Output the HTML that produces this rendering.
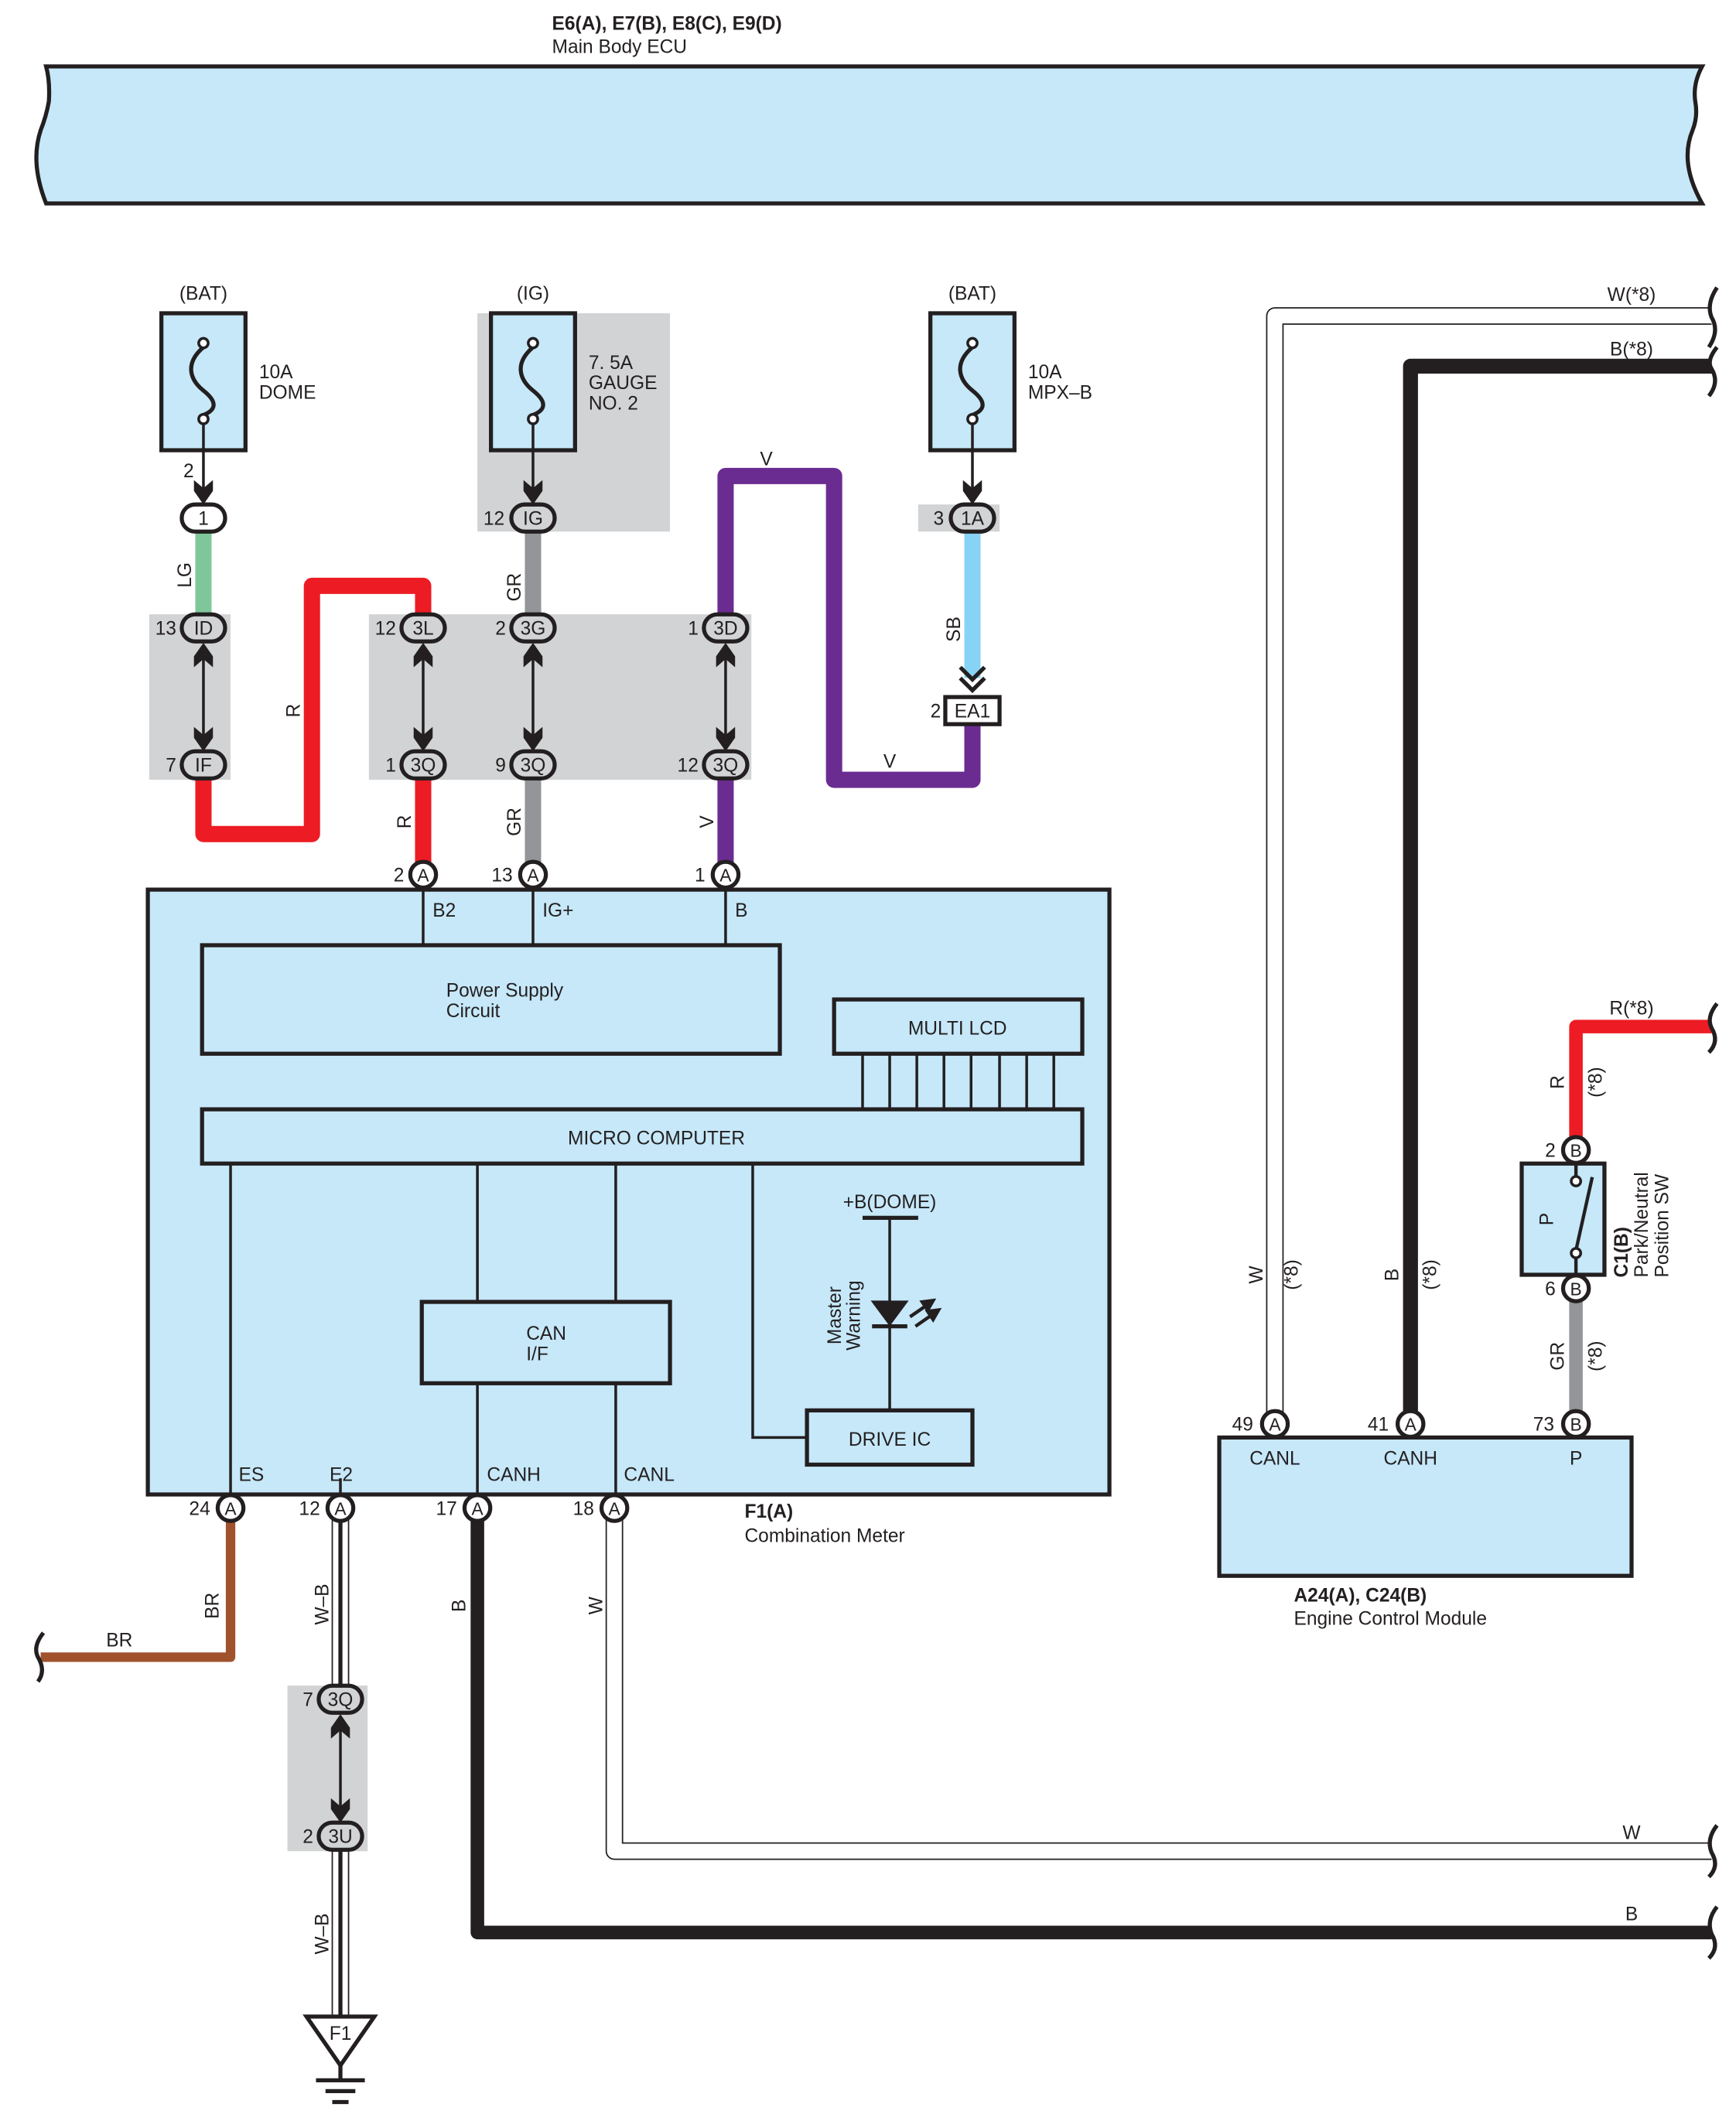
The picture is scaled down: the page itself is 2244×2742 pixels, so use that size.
<!DOCTYPE html>
<html><head><meta charset="utf-8"><style>
html,body{margin:0;padding:0;background:#fff;}
svg{display:block;}
text{font-family:"Liberation Sans",sans-serif;fill:#231f20;}
</style></head><body>
<svg width="2244" height="2742" viewBox="0 0 1280 1564" preserveAspectRatio="none" xmlns="http://www.w3.org/2000/svg">
<g font-size="14">
<!-- Main Body ECU -->
<text x="407" y="22" font-weight="bold">E6(A), E7(B), E8(C), E9(D)</text>
<text x="407" y="39">Main Body ECU</text>
<path d="M34,49 L1255,49 Q1248,62 1250,75 Q1252,86 1248,96 Q1238,120 1255,150 L34,150 Q22,120 30,96 Q34,86 36,75 Q37,60 34,49 Z" fill="#c6e8f9" stroke="#231f20" stroke-width="3"/>

<!-- gray backgrounds -->
<rect x="352" y="231" width="142" height="161" fill="#d1d3d4"/>
<rect x="110" y="453" width="60" height="122" fill="#d1d3d4"/>
<rect x="272" y="453" width="282" height="122" fill="#d1d3d4"/>
<rect x="677" y="372" width="60" height="20" fill="#d1d3d4"/>
<rect x="212" y="1243" width="59" height="122" fill="#d1d3d4"/>

<!-- fuses -->
<g stroke="#231f20" stroke-width="3">
<rect x="119" y="231" width="62" height="101" fill="#c6e8f9"/>
<rect x="362" y="231" width="62" height="101" fill="#c6e8f9"/>
<rect x="686" y="231" width="62" height="101" fill="#c6e8f9"/>
</g>
<g fill="none" stroke="#231f20" stroke-width="3">
<path d="M150,256 C136,268 140,280 150,288 C160,296 160,302 150,306"/>
<path d="M393,256 C379,268 383,280 393,288 C403,296 403,302 393,306"/>
<path d="M717,256 C703,268 707,280 717,288 C727,296 727,302 717,306"/>
</g>
<g fill="#fff" stroke="#231f20" stroke-width="2">
<circle cx="150" cy="253" r="3.5"/><circle cx="150" cy="309" r="3.5"/>
<circle cx="393" cy="253" r="3.5"/><circle cx="393" cy="309" r="3.5"/>
<circle cx="717" cy="253" r="3.5"/><circle cx="717" cy="309" r="3.5"/>
</g>
<g stroke="#231f20" stroke-width="2">
<line x1="150" y1="312" x2="150" y2="370"/>
<line x1="393" y1="312" x2="393" y2="370"/>
<line x1="717" y1="312" x2="717" y2="370"/>
</g>
<text x="150" y="221" text-anchor="middle">(BAT)</text>
<text x="393" y="221" text-anchor="middle">(IG)</text>
<text x="717" y="221" text-anchor="middle">(BAT)</text>
<text x="191" y="279">10A</text><text x="191" y="294">DOME</text>
<text x="434" y="272">7. 5A</text><text x="434" y="287">GAUGE</text><text x="434" y="302">NO. 2</text>
<text x="758" y="279">10A</text><text x="758" y="294">MPX–B</text>

<!-- colored wires -->
<g fill="none" stroke-linejoin="round">
<line x1="150" y1="392" x2="150" y2="455" stroke="#7fc79a" stroke-width="12"/>
<path d="M150,574 L150,615 L230,615 L230,432 L312,432 L312,455" stroke="#ed1c24" stroke-width="12"/>
<line x1="312" y1="574" x2="312" y2="636" stroke="#ed1c24" stroke-width="12"/>
<line x1="393" y1="392" x2="393" y2="455" stroke="#939598" stroke-width="12"/>
<line x1="393" y1="574" x2="393" y2="636" stroke="#939598" stroke-width="12"/>
<path d="M535,455 L535,351 L615,351 L615,575 L717,575 L717,533" stroke="#6b2c91" stroke-width="12"/>
<line x1="535" y1="574" x2="535" y2="636" stroke="#6b2c91" stroke-width="12"/>
<line x1="717" y1="392" x2="717" y2="500" stroke="#87d3f5" stroke-width="12"/>
<path d="M170,1120 L170,1222 L30,1222" stroke="#a0522d" stroke-width="7"/>
<path d="M352,1120 L352,1425 L1262,1425" stroke="#231f20" stroke-width="10"/>
<path d="M453,1120 L453,1365 L1262,1365" stroke="#231f20" stroke-width="13"/>
<path d="M453,1120 L453,1365 L1262,1365" stroke="#fff" stroke-width="11"/>
<path d="M1262,233 L940,233 L940,1042" stroke="#231f20" stroke-width="13"/>
<path d="M1262,233 L940,233 L940,1042" stroke="#fff" stroke-width="11"/>
<path d="M1262,270 L1040,270 L1040,1042" stroke="#231f20" stroke-width="11"/>
<path d="M1262,757 L1162,757 L1162,840" stroke="#ed1c24" stroke-width="10"/>
<line x1="1162" y1="958" x2="1162" y2="1042" stroke="#939598" stroke-width="10"/>
<line x1="251" y1="1120" x2="251" y2="1487" stroke="#231f20" stroke-width="13"/>
<line x1="251" y1="1120" x2="251" y2="1487" stroke="#fff" stroke-width="11"/>
<line x1="251" y1="1120" x2="251" y2="1487" stroke="#231f20" stroke-width="3"/>
</g>
<rect x="212" y="1243" width="59" height="122" fill="#d1d3d4"/>

<!-- wire breaks on right -->
<g fill="none" stroke="#231f20" stroke-width="3">
<path d="M1266,212 Q1258,224 1262,234 Q1268,244 1260,256"/>
<path d="M1266,256 Q1258,266 1262,272 Q1268,282 1260,292"/>
<path d="M1266,740 Q1258,750 1262,758 Q1268,768 1260,776"/>
<path d="M1266,1346 Q1258,1356 1262,1366 Q1268,1376 1260,1384"/>
<path d="M1266,1406 Q1258,1416 1262,1426 Q1268,1436 1260,1444"/>
<path d="M32,1204 Q24,1214 28,1222 Q34,1232 28,1240"/>
</g>

<!-- double arrows -->
<g stroke="#231f20" stroke-width="2">
<line x1="150" y1="476" x2="150" y2="552"/>
<line x1="312" y1="476" x2="312" y2="552"/>
<line x1="393" y1="476" x2="393" y2="552"/>
<line x1="535" y1="476" x2="535" y2="552"/>
<line x1="251" y1="1266" x2="251" y2="1342"/>
</g>
<g fill="#231f20">
<path id="ua" d="M150,474 L157,484 L157,492 L150,486 L143,492 L143,484 Z"/>
<path d="M150,554 L157,544 L157,536 L150,542 L143,536 L143,544 Z"/>
<path d="M312,474 L319,484 L319,492 L312,486 L305,492 L305,484 Z"/>
<path d="M312,554 L319,544 L319,536 L312,542 L305,536 L305,544 Z"/>
<path d="M393,474 L400,484 L400,492 L393,486 L386,492 L386,484 Z"/>
<path d="M393,554 L400,544 L400,536 L393,542 L386,536 L386,544 Z"/>
<path d="M535,474 L542,484 L542,492 L535,486 L528,492 L528,484 Z"/>
<path d="M535,554 L542,544 L542,536 L535,542 L528,536 L528,544 Z"/>
<path d="M251,1264 L258,1274 L258,1282 L251,1276 L244,1282 L244,1274 Z"/>
<path d="M251,1344 L258,1334 L258,1326 L251,1332 L244,1326 L244,1334 Z"/>
<!-- single arrows to top pills -->
<path d="M150,372 L157,362 L157,354 L150,360 L143,354 L143,362 Z"/>
<path d="M393,372 L400,362 L400,354 L393,360 L386,354 L386,362 Z"/>
<path d="M717,372 L724,362 L724,354 L717,360 L710,354 L710,362 Z"/>
</g>
<g fill="none" stroke="#231f20" stroke-width="3">
<path d="M708,492 L717,501 L726,492"/>
<path d="M708,500 L717,509 L726,500"/>
</g>
<rect x="697" y="514" width="40" height="20" fill="#fff" stroke="#231f20" stroke-width="3"/>
<text x="717" y="529" text-anchor="middle">EA1</text><text x="686" y="529">2</text>

<!-- pill connectors -->
<g stroke="#231f20" stroke-width="3">
<rect x="134" y="372" width="32" height="20" rx="10" fill="#fff"/>
<rect x="377" y="372" width="32" height="20" rx="10" fill="#d1d3d4"/>
<rect x="701" y="372" width="32" height="20" rx="10" fill="#d1d3d4"/>
<rect x="134" y="453" width="32" height="20" rx="10" fill="#d1d3d4"/>
<rect x="134" y="554" width="32" height="20" rx="10" fill="#d1d3d4"/>
<rect x="296" y="453" width="32" height="20" rx="10" fill="#d1d3d4"/>
<rect x="296" y="554" width="32" height="20" rx="10" fill="#d1d3d4"/>
<rect x="377" y="453" width="32" height="20" rx="10" fill="#d1d3d4"/>
<rect x="377" y="554" width="32" height="20" rx="10" fill="#d1d3d4"/>
<rect x="519" y="453" width="32" height="20" rx="10" fill="#d1d3d4"/>
<rect x="519" y="554" width="32" height="20" rx="10" fill="#d1d3d4"/>
<rect x="235" y="1243" width="32" height="20" rx="10" fill="#d1d3d4"/>
<rect x="235" y="1344" width="32" height="20" rx="10" fill="#d1d3d4"/>
</g>
<g text-anchor="middle">
<text x="150" y="387">1</text><text x="393" y="387">IG</text><text x="717" y="387">1A</text>
<text x="150" y="468">ID</text><text x="150" y="569">IF</text>
<text x="312" y="468">3L</text><text x="312" y="569">3Q</text>
<text x="393" y="468">3G</text><text x="393" y="569">3Q</text>
<text x="535" y="468">3D</text><text x="535" y="569">3Q</text>
<text x="251" y="1258">3Q</text><text x="251" y="1359">3U</text>
</g>
<g text-anchor="end">
<text x="143" y="352">2</text><text x="372" y="387">12</text><text x="696" y="387">3</text>
<text x="130" y="468">13</text><text x="130" y="569">7</text>
<text x="292" y="468">12</text><text x="292" y="569">1</text>
<text x="373" y="468">2</text><text x="373" y="569">9</text>
<text x="515" y="468">1</text><text x="515" y="569">12</text>
<text x="231" y="1258">7</text><text x="231" y="1359">2</text>
</g>

<!-- wire labels -->
<g>
<text transform="translate(141,424) rotate(-90)" text-anchor="middle">LG</text>
<text transform="translate(221,524) rotate(-90)" text-anchor="middle">R</text>
<text transform="translate(303,606) rotate(-90)" text-anchor="middle">R</text>
<text transform="translate(384,433) rotate(-90)" text-anchor="middle">GR</text>
<text transform="translate(384,606) rotate(-90)" text-anchor="middle">GR</text>
<text transform="translate(526,606) rotate(-90)" text-anchor="middle">V</text>
<text transform="translate(708,464) rotate(-90)" text-anchor="middle">SB</text>
<text x="565" y="343" text-anchor="middle">V</text>
<text x="656" y="566" text-anchor="middle">V</text>
<text transform="translate(161,1184) rotate(-90)" text-anchor="middle">BR</text>
<text x="88" y="1214" text-anchor="middle">BR</text>
<text transform="translate(242,1183) rotate(-90)" text-anchor="middle">W–B</text>
<text transform="translate(242,1426) rotate(-90)" text-anchor="middle">W–B</text>
<text transform="translate(343,1184) rotate(-90)" text-anchor="middle">B</text>
<text transform="translate(444,1184) rotate(-90)" text-anchor="middle">W</text>
<text x="1203" y="1416" text-anchor="middle">B</text>
<text x="1203" y="1356" text-anchor="middle">W</text>
<text x="1203" y="222" text-anchor="middle">W(*8)</text>
<text x="1203" y="262" text-anchor="middle">B(*8)</text>
<text x="1203" y="748" text-anchor="middle">R(*8)</text>
<text transform="translate(931,940) rotate(-90)" text-anchor="middle">W</text>
<text transform="translate(957,940) rotate(-90)" text-anchor="middle">(*8)</text>
<text transform="translate(1031,940) rotate(-90)" text-anchor="middle">B</text>
<text transform="translate(1059,940) rotate(-90)" text-anchor="middle">(*8)</text>
<text transform="translate(1153,798) rotate(-90)" text-anchor="middle">R</text>
<text transform="translate(1181,798) rotate(-90)" text-anchor="middle">(*8)</text>
<text transform="translate(1153,1000) rotate(-90)" text-anchor="middle">GR</text>
<text transform="translate(1181,1000) rotate(-90)" text-anchor="middle">(*8)</text>
</g>

<!-- Combination Meter -->
<rect x="109" y="656" width="709" height="446" fill="#c6e8f9" stroke="#231f20" stroke-width="3"/>
<g stroke="#231f20" stroke-width="2" fill="none">
<line x1="312" y1="656" x2="312" y2="697"/>
<line x1="393" y1="656" x2="393" y2="697"/>
<line x1="535" y1="656" x2="535" y2="697"/>
<line x1="636" y1="777" x2="636" y2="818"/><line x1="656" y1="777" x2="656" y2="818"/>
<line x1="676" y1="777" x2="676" y2="818"/><line x1="696" y1="777" x2="696" y2="818"/>
<line x1="716" y1="777" x2="716" y2="818"/><line x1="737" y1="777" x2="737" y2="818"/>
<line x1="757" y1="777" x2="757" y2="818"/><line x1="777" y1="777" x2="777" y2="818"/>
<line x1="170" y1="858" x2="170" y2="1102"/>
<line x1="352" y1="858" x2="352" y2="960"/>
<line x1="454" y1="858" x2="454" y2="960"/>
<line x1="352" y1="1020" x2="352" y2="1102"/>
<line x1="454" y1="1020" x2="454" y2="1102"/>
<line x1="251" y1="1090" x2="251" y2="1102"/>
<path d="M555,858 L555,1060 L595,1060"/>
<line x1="656" y1="898" x2="656" y2="1040"/>
<line x1="636" y1="898" x2="677" y2="898" stroke-width="3"/>
<line x1="643" y1="978" x2="669" y2="978" stroke-width="3"/>
</g>
<g stroke="#231f20" stroke-width="3" fill="none">
<rect x="149" y="697" width="426" height="80"/>
<rect x="615" y="737" width="183" height="40"/>
<rect x="149" y="818" width="649" height="40"/>
<rect x="311" y="960" width="183" height="60"/>
<rect x="595" y="1040" width="122" height="40"/>
</g>
<path d="M642,959 L670,959 L656,978 Z" fill="#231f20"/>
<g stroke="#231f20" stroke-width="2.5" fill="#231f20">
<line x1="671" y1="971" x2="684" y2="962"/><path d="M688,959 L680,960 L684,966 Z"/>
<line x1="675" y1="978" x2="688" y2="969"/><path d="M692,966 L684,967 L688,973 Z"/>
</g>
<text x="329" y="735">Power Supply</text><text x="329" y="750">Circuit</text>
<text x="706" y="763" text-anchor="middle">MULTI LCD</text>
<text x="484" y="844" text-anchor="middle">MICRO COMPUTER</text>
<text x="388" y="988">CAN</text><text x="388" y="1003">I/F</text>
<text x="656" y="1066" text-anchor="middle">DRIVE IC</text>
<text x="656" y="891" text-anchor="middle">+B(DOME)</text>
<text transform="translate(620,970) rotate(-90)" text-anchor="middle">Master</text>
<text transform="translate(634,970) rotate(-90)" text-anchor="middle">Warning</text>
<text x="319" y="676">B2</text><text x="400" y="676">IG+</text><text x="542" y="676">B</text>
<text x="176" y="1092">ES</text><text x="243" y="1092">E2</text>
<text x="359" y="1092">CANH</text><text x="460" y="1092">CANL</text>
<text x="549" y="1119" font-weight="bold">F1(A)</text>
<text x="549" y="1137">Combination Meter</text>

<!-- ECM -->
<rect x="899" y="1060" width="304" height="102" fill="#c6e8f9" stroke="#231f20" stroke-width="3"/>
<text x="940" y="1080" text-anchor="middle">CANL</text>
<text x="1040" y="1080" text-anchor="middle">CANH</text>
<text x="1162" y="1080" text-anchor="middle">P</text>
<text x="954" y="1181" font-weight="bold">A24(A), C24(B)</text>
<text x="954" y="1198">Engine Control Module</text>

<!-- Park/Neutral SW -->
<rect x="1122" y="858" width="61" height="82" fill="#c6e8f9" stroke="#231f20" stroke-width="3"/>
<g stroke="#231f20" stroke-width="2.5" fill="none">
<line x1="1162" y1="858" x2="1162" y2="868"/>
<line x1="1162" y1="927" x2="1162" y2="940"/>
<line x1="1162" y1="922" x2="1174" y2="868"/>
</g>
<circle cx="1162" cy="871" r="3.5" fill="#fff" stroke="#231f20" stroke-width="2"/>
<circle cx="1162" cy="924" r="3.5" fill="#fff" stroke="#231f20" stroke-width="2"/>
<text transform="translate(1145,899) rotate(-90)" text-anchor="middle">P</text>
<text transform="translate(1200,942) rotate(-90)" font-weight="bold">C1(B)</text>
<text transform="translate(1215,942) rotate(-90)">Park/Neutral</text>
<text transform="translate(1230,942) rotate(-90)">Position SW</text>

<!-- round connectors -->
<g stroke="#231f20" stroke-width="3" fill="#fff">
<circle cx="312" cy="645" r="9.5"/><circle cx="393" cy="645" r="9.5"/><circle cx="535" cy="645" r="9.5"/>
<circle cx="170" cy="1112" r="9.5"/><circle cx="251" cy="1112" r="9.5"/>
<circle cx="352" cy="1112" r="9.5"/><circle cx="453" cy="1112" r="9.5"/>
<circle cx="940" cy="1050" r="9.5"/><circle cx="1040" cy="1050" r="9.5"/><circle cx="1162" cy="1050" r="9.5"/>
<circle cx="1162" cy="848" r="9.5"/><circle cx="1162" cy="950" r="9.5"/>
</g>
<g text-anchor="middle" font-size="13">
<text x="312" y="650">A</text><text x="393" y="650">A</text><text x="535" y="650">A</text>
<text x="170" y="1117">A</text><text x="251" y="1117">A</text><text x="352" y="1117">A</text><text x="453" y="1117">A</text>
<text x="940" y="1055">A</text><text x="1040" y="1055">A</text><text x="1162" y="1055">B</text>
<text x="1162" y="853">B</text><text x="1162" y="955">B</text>
</g>
<g text-anchor="end">
<text x="298" y="650">2</text><text x="378" y="650">13</text><text x="520" y="650">1</text>
<text x="155" y="1117">24</text><text x="236" y="1117">12</text><text x="337" y="1117">17</text><text x="438" y="1117">18</text>
<text x="924" y="1055">49</text><text x="1024" y="1055">41</text><text x="1146" y="1055">73</text>
<text x="1147" y="853">2</text><text x="1147" y="955">6</text>
</g>

<!-- ground -->
<path d="M226,1487 L276,1487 L251,1523 Z" fill="#fff" stroke="#231f20" stroke-width="3"/>
<text x="251" y="1504" text-anchor="middle">F1</text>
<g stroke="#231f20" stroke-width="3">
<line x1="251" y1="1523" x2="251" y2="1534"/>
<line x1="233" y1="1534" x2="269" y2="1534"/>
<line x1="240" y1="1542" x2="262" y2="1542"/>
<line x1="245" y1="1550" x2="257" y2="1550"/>
</g>
</g>
</svg>
</body></html>
